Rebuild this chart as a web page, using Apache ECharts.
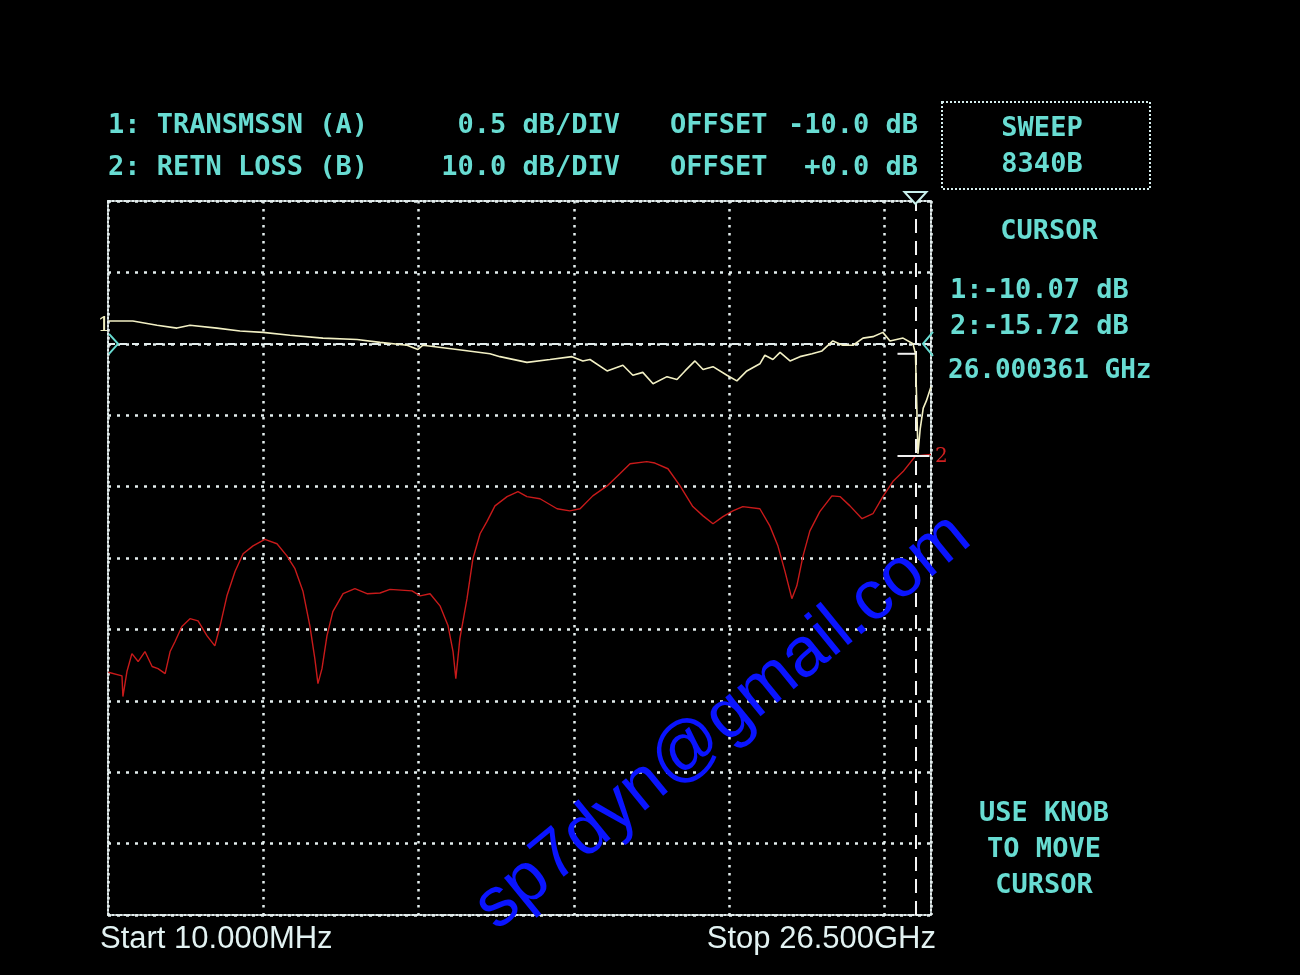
<!DOCTYPE html>
<html><head><meta charset="utf-8">
<script src="https://cdn.jsdelivr.net/npm/echarts@6/dist/echarts.min.js"></script>
<style>html,body{margin:0;padding:0;background:#000}#c{width:1300px;height:975px}</style>
</head><body><div id="c"></div>
<script>
// ---- DATA ----
const freq1 = [0.01,0.06,0.80,1.58,2.22,2.64,3.51,4.25,4.99,5.86,6.92,8.02,8.76,9.63,9.98,10.14,11.24,12.30,12.62,13.49,14.23,14.94,15.29,15.52,16.07,16.58,16.90,17.22,17.55,18.00,18.32,18.58,18.90,19.16,19.48,19.93,20.25,20.57,20.99,21.15,21.41,21.64,21.96,22.28,22.67,22.99,23.34,23.66,23.99,24.31,24.63,24.95,25.18,25.60,25.92,26.00,26.08,26.15,26.25,26.35,26.50];
const trans1 = [-9.84,-9.84,-9.84,-9.87,-9.89,-9.87,-9.89,-9.91,-9.92,-9.94,-9.96,-9.97,-9.99,-10.01,-10.04,-10.01,-10.04,-10.07,-10.09,-10.13,-10.11,-10.09,-10.12,-10.11,-10.19,-10.15,-10.22,-10.20,-10.28,-10.23,-10.25,-10.19,-10.12,-10.18,-10.16,-10.22,-10.26,-10.19,-10.14,-10.08,-10.11,-10.06,-10.12,-10.09,-10.07,-10.05,-9.98,-10.01,-10.01,-9.96,-9.95,-9.92,-9.98,-9.96,-10.00,-10.07,-10.77,-10.60,-10.45,-10.40,-10.30];
const freq2 = [0.01,0.06,0.45,0.48,0.61,0.77,0.97,1.19,1.42,1.61,1.84,2.00,2.16,2.38,2.64,2.90,3.19,3.44,3.61,3.83,4.09,4.35,4.67,5.05,5.44,5.76,6.02,6.28,6.50,6.66,6.76,6.89,7.05,7.24,7.57,7.95,8.34,8.76,9.08,9.79,10.05,10.37,10.69,10.95,11.11,11.20,11.33,11.56,11.75,11.98,12.20,12.46,12.85,13.20,13.49,13.91,14.46,14.87,15.20,15.61,16.07,16.48,16.81,17.35,17.61,18.03,18.42,18.83,19.16,19.48,19.80,20.12,20.44,20.99,21.31,21.57,21.80,22.02,22.18,22.38,22.60,22.92,23.31,23.57,23.89,24.28,24.63,24.95,25.27,25.60,26.00,26.24,26.50];
const retLoss2 = [-46.0,-46.2,-46.5,-49.4,-45.9,-43.4,-44.5,-43.1,-45.2,-45.5,-46.2,-43.1,-41.7,-39.6,-38.5,-38.8,-40.9,-42.3,-39.5,-35.3,-31.9,-29.4,-28.3,-27.4,-28.0,-29.7,-31.5,-34.7,-39.5,-44.1,-47.6,-45.5,-40.9,-37.5,-35.0,-34.3,-35.0,-34.9,-34.4,-34.6,-35.3,-35.0,-36.7,-39.5,-43.1,-46.9,-41.3,-35.7,-30.1,-26.6,-24.9,-22.7,-21.4,-20.7,-21.4,-21.7,-23.1,-23.4,-23.1,-21.3,-19.9,-18.2,-16.8,-16.5,-16.7,-17.5,-19.9,-22.8,-24.1,-25.2,-24.2,-23.4,-22.8,-23.1,-25.5,-28.3,-31.9,-35.7,-33.9,-29.7,-26.2,-23.5,-21.3,-21.4,-22.7,-24.5,-23.8,-21.4,-19.3,-17.9,-15.72,-15.6,-15.5];
const headerName = ['1: TRANSMSSN (A)', '2: RETN LOSS (B)'];
const headerScale = ['0.5 dB/DIV', '10.0 dB/DIV'];
const headerOffset = ['-10.0 dB', '+0.0 dB'];
const refLevel1 = -10.0;   // dB, trace 1 reference
const refLevel2 = 0.0;     // dB, trace 2 reference
const cursorFreq = 26.000361;
const cursorVals = [-10.07, -15.72];
const startLabel = 'Start 10.000MHz';
const stopLabel = 'Stop 26.500GHz';
const watermark = 'sp7dyn@gmail.com';

// ---- CHART ----
const CYAN = '#68dcd2';
const GRIDC = '#e4eeee';
const MONO = '"DejaVu Sans Mono", "Liberation Mono", monospace';
const chart = echarts.init(document.getElementById('c'), null, {renderer: 'canvas'});
const pairs1 = freq1.map((f, i) => [f, trans1[i]]);
const pairs2 = freq2.map((f, i) => [f, retLoss2[i]]);

function txt(text, x, y, opt) {
  return Object.assign({type: 'text', x: x, y: y, silent: true, z: 100,
    style: Object.assign({text: text, fill: CYAN, font: 'bold 27px ' + MONO, textVerticalAlign: 'middle'}, opt || {})});
}

const option = {
  backgroundColor: '#000',
  animation: false,
  grid: {left: 108, top: 201, width: 823, height: 714, containLabel: false},
  xAxis: [{
    type: 'value', min: 0, max: 26.5, interval: 5, position: 'bottom',
    axisLine: {show: true, onZero: false, lineStyle: {color: GRIDC, width: 2, type: [2, 2]}},
    axisTick: {show: false}, axisLabel: {show: false},
    splitLine: {show: true, lineStyle: {color: GRIDC, width: 2.5, type: [2.5, 5.5]}}
  }, {
    type: 'value', min: 0, max: 26.5, position: 'top',
    axisLine: {show: true, onZero: false, lineStyle: {color: GRIDC, width: 2, type: [2, 2]}},
    axisTick: {show: false}, axisLabel: {show: false}, splitLine: {show: false}
  }],
  yAxis: [{
    type: 'value', min: -14, max: -9, interval: 0.5, position: 'left',
    axisLine: {show: true, onZero: false, lineStyle: {color: GRIDC, width: 2, type: [2, 2]}},
    axisTick: {show: false}, axisLabel: {show: false},
    splitLine: {show: true, lineStyle: {color: GRIDC, width: 2.5, type: [3, 6]}}
  }, {
    type: 'value', min: -80, max: 20, interval: 10, position: 'right',
    axisLine: {show: true, onZero: false, lineStyle: {color: GRIDC, width: 2, type: [2, 2]}},
    axisTick: {show: false}, axisLabel: {show: false}, splitLine: {show: false}
  }],
  series: [{
    name: 'TRANSMSSN', type: 'line', xAxisIndex: 0, yAxisIndex: 0, data: pairs1,
    showSymbol: false, symbol: 'none', z: 5,
    lineStyle: {color: '#f2f0c4', width: 1.6},
    markLine: {
      silent: true, symbol: 'none', label: {show: false},
      data: [
        {yAxis: refLevel1, lineStyle: {color: GRIDC, width: 2, type: [7, 5]}},
        {xAxis: cursorFreq, lineStyle: {color: '#f4f4f4', width: 2, type: [14, 8]}}
      ]
    }
  }, {
    name: 'RETN LOSS', type: 'line', xAxisIndex: 0, yAxisIndex: 1, data: pairs2,
    showSymbol: false, symbol: 'none', z: 4,
    lineStyle: {color: '#c81a1a', width: 1.4}
  }],
  graphic: []
};
chart.setOption(option);

// decorations placed through the chart's own scales
const p1 = (x, y) => chart.convertToPixel({seriesIndex: 0}, [x, y]);
const p2 = (x, y) => chart.convertToPixel({seriesIndex: 1}, [x, y]);
const g = [];
// header texts
g.push(txt(headerName[0], 108, 126));
g.push(txt(headerName[1], 108, 168));
g.push(txt(headerScale[0], 620, 126, {textAlign: 'right'}));
g.push(txt(headerScale[1], 620, 168, {textAlign: 'right'}));
g.push(txt('OFFSET', 670, 126));
g.push(txt('OFFSET', 670, 168));
g.push(txt(headerOffset[0], 918, 126, {textAlign: 'right'}));
g.push(txt(headerOffset[1], 918, 168, {textAlign: 'right'}));
// sweep box
g.push({type: 'rect', silent: true, z: 100, shape: {x: 942, y: 102, width: 208, height: 87},
  style: {fill: 'none', stroke: '#d6eeee', lineWidth: 2, lineDash: [2, 2]}});
g.push(txt('SWEEP', 1042, 129, {textAlign: 'center'}));
g.push(txt('8340B', 1042, 165, {textAlign: 'center'}));
// cursor readout
g.push(txt('CURSOR', 1049, 232, {textAlign: 'center'}));
g.push(txt('1:' + cursorVals[0].toFixed(2) + ' dB', 950, 291));
g.push(txt('2:' + cursorVals[1].toFixed(2) + ' dB', 950, 327));
g.push(txt(cursorFreq.toFixed(6) + ' GHz', 948, 371, {font: 'bold 26px ' + MONO}));
g.push(txt('USE KNOB', 1044, 814, {textAlign: 'center'}));
g.push(txt('TO MOVE', 1044, 850, {textAlign: 'center'}));
g.push(txt('CURSOR', 1044, 886, {textAlign: 'center'}));
// start / stop
g.push(txt(startLabel, 100, 939, {fill: '#e2f2f2', font: '31px "Liberation Sans", Arial, sans-serif'}));
g.push(txt(stopLabel, 936, 939, {fill: '#e2f2f2', textAlign: 'right', font: '31px "Liberation Sans", Arial, sans-serif'}));

// reference markers
const r1 = p1(0, refLevel1);
g.push({type: 'polyline', silent: true, z: 90, shape: {points: [[r1[0] + 1, r1[1] - 10], [r1[0] + 10, r1[1]], [r1[0] + 1, r1[1] + 10]]},
  style: {stroke: CYAN, lineWidth: 2, fill: 'none'}});
g.push(txt('1', r1[0] - 4, r1[1] - 18, {fill: '#f0eec0', textAlign: 'center', font: '20px "DejaVu Serif", serif'}));
const r2 = p2(26.5, refLevel2);
g.push({type: 'polyline', silent: true, z: 90, shape: {points: [[r2[0] + 2, r2[1] - 12], [r2[0] - 8, r2[1]], [r2[0] + 2, r2[1] + 12]]},
  style: {stroke: CYAN, lineWidth: 2, fill: 'none'}});
// cursor triangle at top
const ct = p1(cursorFreq, -9);
g.push({type: 'polygon', silent: true, z: 90, shape: {points: [[ct[0] - 11, ct[1] - 9], [ct[0] + 11, ct[1] - 9], [ct[0], ct[1] + 3]]},
  style: {stroke: '#c8f0ec', lineWidth: 2, fill: '#000'}});
// cursor crosshair marks
const c1 = p1(cursorFreq, cursorVals[0]);
g.push({type: 'line', silent: true, z: 90, shape: {x1: c1[0] - 18, y1: c1[1], x2: c1[0], y2: c1[1]}, style: {stroke: '#f0f0f0', lineWidth: 2}});
const c2 = p2(cursorFreq, cursorVals[1]);
g.push({type: 'line', silent: true, z: 90, shape: {x1: c2[0] - 18, y1: c2[1], x2: c2[0] + 14, y2: c2[1]}, style: {stroke: '#f0f0f0', lineWidth: 2}});
g.push(txt('2', c2[0] + 26, c2[1] + 1, {fill: '#d02020', textAlign: 'center', font: '20px "DejaVu Serif", serif'}));
// watermark
g.push({type: 'text', silent: true, z: 200, x: 723, y: 722, rotation: 0.684,
  style: {text: watermark, fill: '#0a14ff', font: '70px "Liberation Sans", Arial, sans-serif', textAlign: 'center', textVerticalAlign: 'middle'}});

chart.setOption({graphic: g});
</script>
</body></html>
